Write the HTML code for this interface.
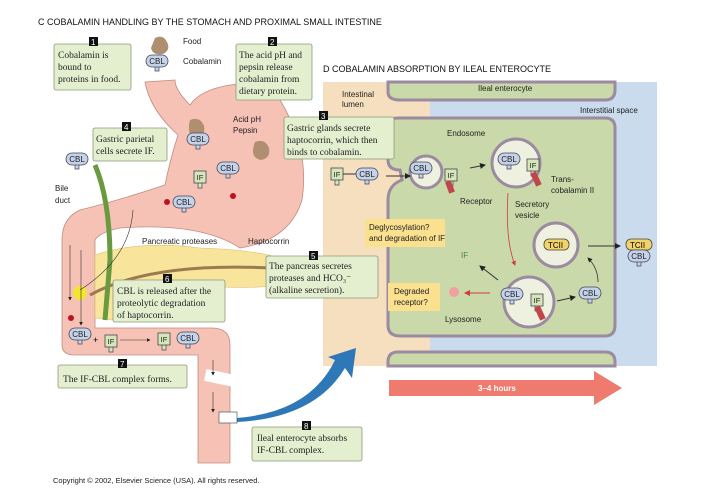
<!DOCTYPE html>
<html><head><meta charset="utf-8"><style>
body{margin:0;background:#fff}
svg{display:block}
text{font-family:"Liberation Sans",sans-serif}
.s{font-family:"Liberation Serif",serif;font-size:9.5px;fill:#222}
.l{font-size:8px;fill:#222}
.bx{fill:#e3efcf;stroke:#8a9a78;stroke-width:0.8}
</style></head><body>
<svg width="704" height="503" viewBox="0 0 704 503" xmlns="http://www.w3.org/2000/svg">
<defs>
<marker id="a" markerWidth="6" markerHeight="6" refX="5" refY="3" orient="auto"><path d="M0,0L6,3L0,6z" fill="#222"/></marker>
<marker id="r" markerWidth="6" markerHeight="6" refX="5" refY="3" orient="auto"><path d="M0,0L6,3L0,6z" fill="#d23a3a"/></marker>
<g id="cbl"><path d="M-2,4v6h4v-6" fill="#c5d3ea" stroke="#445" stroke-width="0.7"/><rect x="-11" y="-6" width="22" height="12" rx="6" fill="#c5d3ea" stroke="#445" stroke-width="0.8"/><text x="0" y="3" font-size="8" text-anchor="middle" font-family="Liberation Sans" fill="#222">CBL</text></g>
<g id="if"><path d="M-2,5v6h4v-6" fill="#d5e6b8" stroke="#445" stroke-width="0.7"/><rect x="-6" y="-6" width="12" height="12" fill="#d5e6b8" stroke="#445" stroke-width="0.8"/><text x="0" y="3" font-size="7.5" text-anchor="middle" font-family="Liberation Sans" fill="#222">IF</text></g>
</defs>
<!-- titles -->
<text x="38" y="25" font-size="9" fill="#111">C   COBALAMIN HANDLING BY THE STOMACH AND PROXIMAL SMALL INTESTINE</text>
<text x="323" y="72" font-size="9" fill="#111">D   COBALAMIN ABSORPTION BY ILEAL ENTEROCYTE</text>

<!-- Panel D -->
<rect x="323" y="82" width="334" height="284" fill="#f5dfbf"/>
<rect x="430" y="82" width="227" height="284" fill="#c9dbec"/>
<path d="M388,82 L388,92 Q388,100 400,100 L605,100 Q615,100 615,90 L615,82Z" fill="#c9d9a9" stroke="#9b8aa0" stroke-width="3"/>
<path d="M398,118 Q388,118 388,128 L388,160 Q388,170 400,170 L402,180 Q388,185 388,200 L388,325 Q388,336 400,336 L605,336 Q615,336 615,325 L615,128 Q615,118 605,118Z" fill="#c9d9a9" stroke="#9b8aa0" stroke-width="3"/>
<path d="M398,352 Q388,352 388,362 L388,366 L615,366 L615,362 Q615,352 605,352Z" fill="#c9d9a9" stroke="#9b8aa0" stroke-width="3"/>
<text x="478" y="91" class="l">Ileal enterocyte</text>
<text x="580" y="113" class="l">Interstitial space</text>
<text x="342" y="97" class="l">Intestinal</text><text x="342" y="107" class="l">lumen</text>
<text x="447" y="136" class="l">Endosome</text>
<circle cx="426" cy="172" r="16" fill="#eef0e0" stroke="#9b8aa0" stroke-width="3"/>
<circle cx="516" cy="163" r="24" fill="#eef0e0" stroke="#9b8aa0" stroke-width="3"/>
<circle cx="556" cy="245" r="22" fill="#eef0e0" stroke="#9b8aa0" stroke-width="3"/>
<circle cx="529" cy="302" r="25" fill="#eef0e0" stroke="#9b8aa0" stroke-width="3"/>
<use href="#if" x="337" y="174"/><use href="#cbl" x="367" y="174"/><line x1="343" y1="174" x2="356" y2="174" stroke="#333"/>
<line x1="386" y1="176" x2="410" y2="176" stroke="#333" marker-end="url(#a)"/>
<use href="#cbl" x="421" y="168"/><use href="#if" x="451" y="175"/>
<rect x="447" y="181" width="6" height="12" fill="#c0464a" transform="rotate(-20 450 187)"/>
<text x="460" y="204" class="l">Receptor</text>
<line x1="470" y1="168" x2="485" y2="165" stroke="#333" marker-end="url(#a)"/>
<use href="#cbl" x="509" y="159"/><use href="#if" x="533" y="165"/>
<rect x="533" y="172" width="6" height="14" fill="#c0464a" transform="rotate(-25 536 179)"/>
<text x="551" y="182" class="l">Trans-</text><text x="551" y="193" class="l">cobalamin II</text>
<text x="515" y="207" class="l">Secretory</text><text x="515" y="218" class="l">vesicle</text>
<rect x="544" y="239" width="25" height="11" rx="5" fill="#f2d36a" stroke="#444" stroke-width="0.8"/><text x="548" y="248" font-size="8">TCII</text>
<line x1="588" y1="246" x2="620" y2="246" stroke="#333" marker-end="url(#a)"/>
<rect x="626" y="239" width="26" height="11" rx="5" fill="#f2d36a" stroke="#444" stroke-width="0.8"/><text x="630" y="248" font-size="8">TCII</text>
<use href="#cbl" x="639" y="256"/>
<path d="M508,193 Q505,240 515,265" fill="none" stroke="#d23a3a" stroke-width="0.8" marker-end="url(#r)"/>
<rect x="365" y="219" width="80" height="28" fill="#fbe08f"/>
<text x="369" y="230" class="l">Deglycosylation?</text><text x="369" y="241" class="l">and degradation of IF</text>
<text x="461" y="258" font-size="8" fill="#4a8a3a">IF</text>
<line x1="498" y1="280" x2="480" y2="266" stroke="#333" marker-end="url(#a)"/>
<use href="#cbl" x="512" y="294"/><use href="#if" x="537" y="300"/>
<rect x="537" y="306" width="6" height="14" fill="#c0464a" transform="rotate(-25 540 313)"/>
<line x1="490" y1="293" x2="465" y2="293" stroke="#d23a3a" stroke-width="1" marker-end="url(#r)"/>
<circle cx="454" cy="292" r="5" fill="#f0a0a0"/>
<rect x="388" y="283" width="52" height="28" fill="#fbe08f"/>
<text x="394" y="294" class="l">Degraded</text><text x="394" y="305" class="l">receptor?</text>
<text x="445" y="322" class="l">Lysosome</text>
<line x1="557" y1="301" x2="575" y2="297" stroke="#333" marker-end="url(#a)"/>
<use href="#cbl" x="590" y="293"/>
<path d="M598,282 Q598,268 588,258" fill="none" stroke="#333" stroke-width="0.8" marker-end="url(#a)"/>

<!-- red arrow -->
<path d="M389,380 L594,380 L594,371 L622,388 L594,405 L594,396 L389,396Z" fill="#ef7a6e"/>
<text x="478" y="391" font-size="8" fill="#fff" font-weight="bold">3–4 hours</text>

<!-- blue arrow -->
<path d="M237,418 Q310,412 335,360 L328,357 L356,348 L352,378 L345,368 Q315,418 237,422Z" fill="#2f78b8"/>

<!-- stomach & intestine -->
<path d="M145,82 Q150,110 178,135 Q170,160 165,185 Q120,200 80,210 Q62,218 62,240 L62,345 Q62,355 75,355 L198,355 L198,463 L230,463 L230,345 Q230,328 212,328 L95,328 L95,240 Q100,232 120,228 Q200,222 240,248 Q290,240 302,200 Q310,150 280,100 Q260,82 230,85 Q200,90 190,105 Q175,90 175,80Z" fill="#f6c2b6" stroke="#c08a80" stroke-width="0.8"/>
<rect x="205" y="372" width="35" height="12" fill="#fff" transform="rotate(12 220 378)"/>
<rect x="219" y="412" width="18" height="11" fill="#fff" stroke="#555" stroke-width="0.7"/>
<!-- pancreas -->
<path d="M95,255 Q140,240 200,248 Q260,250 285,260 L285,285 Q240,290 200,285 Q150,290 112,320 L95,318Z" fill="#f8e49a" stroke="#d6c06a" stroke-width="0.6"/>
<path d="M90,295 Q150,262 270,268" fill="none" stroke="#9c7a50" stroke-width="3"/>
<!-- bile duct -->
<path d="M95,165 Q110,200 110,260 L105,320" fill="none" stroke="#6a9a40" stroke-width="5"/>
<circle cx="80" cy="293" r="7" fill="#f2e630"/>
<circle cx="71" cy="318" r="3" fill="#c01020"/>
<circle cx="167" cy="202" r="3" fill="#c01020"/><circle cx="233" cy="196" r="3" fill="#c01020"/>
<path d="M133,210 Q130,258 80,290" fill="none" stroke="#333" stroke-width="0.6"/>
<line x1="70" y1="245" x2="70" y2="300" stroke="#333" stroke-width="0.6" marker-end="url(#a)"/>
<line x1="81" y1="250" x2="81" y2="325" stroke="#333" stroke-width="0.6" marker-end="url(#a)"/>
<line x1="213" y1="360" x2="213" y2="375" stroke="#333" stroke-width="0.6" marker-end="url(#a)"/>
<line x1="213" y1="392" x2="213" y2="412" stroke="#333" stroke-width="0.6" marker-end="url(#a)"/>

<path d="M155,38 q8,-4 12,4 q4,8 -4,12 q-10,2 -12,-6z" fill="#b08e70"/>
<use href="#cbl" x="157" y="61"/>
<text x="183" y="44" class="l">Food</text><text x="183" y="64" class="l">Cobalamin</text>
<path d="M190,120 q10,-4 14,6 q2,10 -8,12 q-10,-2 -6,-18z" fill="#b08e70"/>
<use href="#cbl" x="198" y="139"/><use href="#cbl" x="228" y="168"/><use href="#cbl" x="184" y="202"/>
<path d="M255,142 q10,-4 14,6 q2,10 -8,12 q-12,-2 -6,-18z" fill="#b08e70"/>
<text x="233" y="122" class="l">Acid pH</text><text x="233" y="133" class="l">Pepsin</text>
<use href="#if" x="200" y="177"/>
<use href="#cbl" x="77" y="159"/>
<text x="55" y="191" class="l">Bile</text><text x="55" y="203" class="l">duct</text>
<text x="142" y="244" class="l">Pancreatic proteases</text>
<text x="248" y="244" class="l">Haptocorrin</text>
<use href="#cbl" x="80" y="334"/><text x="93" y="343" font-size="9">+</text><use href="#if" x="111" y="341"/>
<line x1="120" y1="340" x2="150" y2="340" stroke="#333" stroke-width="0.6" marker-end="url(#a)"/>
<use href="#if" x="164" y="339"/><use href="#cbl" x="188" y="338"/>

<!-- boxes -->
<rect class="bx" x="54" y="44" width="77" height="46" rx="2"/><rect x="89" y="37" width="9" height="9" fill="#111"/><text x="91" y="45" font-size="8" fill="#fff">1</text>
<text class="s" x="58" y="58">Cobalamin is</text><text class="s" x="58" y="70">bound to</text><text class="s" x="58" y="82">proteins in food.</text>
<rect class="bx" x="236" y="44" width="76" height="56" rx="2"/><rect x="268" y="37" width="9" height="9" fill="#111"/><text x="270" y="45" font-size="8" fill="#fff">2</text>
<text class="s" x="239" y="58">The acid pH and</text><text class="s" x="239" y="70">pepsin release</text><text class="s" x="239" y="82">cobalamin from</text><text class="s" x="239" y="94">dietary protein.</text>
<rect class="bx" x="284" y="117" width="110" height="42" rx="2"/><rect x="319" y="111" width="9" height="9" fill="#111"/><text x="321" y="119" font-size="8" fill="#fff">3</text>
<text class="s" x="287" y="131">Gastric glands secrete</text><text class="s" x="287" y="143">haptocorrin, which then</text><text class="s" x="287" y="155">binds to cobalamin.</text>
<rect class="bx" x="93" y="128" width="74" height="33" rx="2"/><rect x="122" y="122" width="9" height="9" fill="#111"/><text x="124" y="130" font-size="8" fill="#fff">4</text>
<text class="s" x="96" y="142">Gastric parietal</text><text class="s" x="96" y="154">cells secrete IF.</text>
<rect class="bx" x="266" y="256" width="112" height="42" rx="2"/><rect x="309" y="251" width="9" height="9" fill="#111"/><text x="311" y="259" font-size="8" fill="#fff">5</text>
<text class="s" x="269" y="269">The pancreas secretes</text><text class="s" x="269" y="281">proteases and HCO₃⁻</text><text class="s" x="269" y="293">(alkaline secretion).</text>
<rect class="bx" x="113" y="280" width="112" height="42" rx="2"/><rect x="163" y="274" width="9" height="9" fill="#111"/><text x="165" y="282" font-size="8" fill="#fff">6</text>
<text class="s" x="117" y="294">CBL is released after the</text><text class="s" x="117" y="306">proteolytic degradation</text><text class="s" x="117" y="318">of haptocorrin.</text>
<rect class="bx" x="58" y="365" width="129" height="23" rx="2"/><rect x="118" y="359" width="9" height="9" fill="#111"/><text x="120" y="367" font-size="8" fill="#fff">7</text>
<text class="s" x="63" y="382">The IF-CBL complex forms.</text>
<rect class="bx" x="252" y="427" width="110" height="34" rx="2"/><rect x="302" y="421" width="9" height="9" fill="#111"/><text x="304" y="429" font-size="8" fill="#fff">8</text>
<text class="s" x="257" y="441">Ileal enterocyte absorbs</text><text class="s" x="257" y="453">IF-CBL complex.</text>

<text x="53" y="483" font-family="Liberation Serif" font-size="7.5" fill="#222">Copyright © 2002, Elsevier Science (USA).  All rights reserved.</text>
</svg>
</body></html>
